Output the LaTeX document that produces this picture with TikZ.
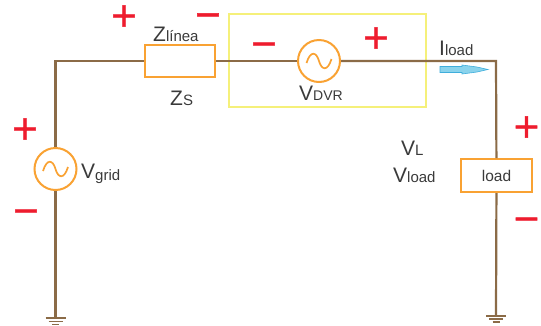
\documentclass[tikz,border=0pt]{standalone}
\usepackage{fontspec}
\setmainfont{Liberation Sans}
\newfontfamily\signfont[FakeBold=1.5]{DejaVu Sans}
\definecolor{wire}{HTML}{8B6B47}
\definecolor{orng}{HTML}{F9A233}
\definecolor{ylw}{HTML}{F5F07A}
\definecolor{sgn}{HTML}{EE1C2E}
\definecolor{txt}{HTML}{3A3A3A}
\definecolor{cyanfill}{HTML}{8AD3EC}
\definecolor{cyanline}{HTML}{3FAEDC}
\newcommand{\lab}[2]{{\fontsize{21}{21}\selectfont #1\fontsize{15}{15}\selectfont #2}}
\tikzset{
  x=1pt,y=-1pt,
  wireline/.style={draw=wire,line width=2.2pt},
  srcbox/.style={draw=orng,line width=2pt,fill=white,inner sep=0pt},
  srccirc/.style={draw=orng,line width=2pt,fill=white,circle,inner sep=0pt,minimum size=42pt},
  sgnmark/.style={text=sgn,inner sep=0pt,anchor=base,font=\signfont\fontsize{34}{34}\selectfont},
  lbl/.style={text=txt,inner sep=0pt,anchor=base west},
}
\begin{document}
\begin{tikzpicture}
\useasboundingbox (0,0) rectangle (541,325);
\node[draw=ylw,line width=1.8pt,minimum width=197pt,minimum height=93pt,inner sep=0pt] (dvrbox) at (327.5,60.5) {};
\coordinate (tl) at (55.5,61);
\coordinate (tr) at (496,61);
\coordinate (gl) at (55.5,318);
\coordinate (gr) at (496,316);
\node[srccirc] (vg) at (55.5,169) {};
\node[srccirc] (vd) at (319,61) {};
\node[srcbox,minimum width=70pt,minimum height=32pt] (z) at (180,61) {};
\node[srcbox,minimum width=71pt,minimum height=33pt,font=\fontsize{15.5}{15.5}\selectfont,text=txt] (ld) at (496.5,175.5) {load};
\draw[wireline] (vg) -- (tl) -- (z);
\draw[wireline] (z) -- (vd);
\draw[wireline] (vd) -- (tr) -- (ld);
\draw[wireline] (vg) -- (gl);
\draw[wireline] (ld) -- (gr);
% grounds
\draw[wire,line width=1.5pt] (45.5,318) -- (65.5,318);
\draw[wire,line width=1.5pt] (48.5,321.5) -- (62.5,321.5);
\draw[wire,line width=1.5pt] (52,324.5) -- (59,324.5);
\draw[wire,line width=1.5pt] (486,316) -- (506,316);
\draw[wire,line width=1.5pt] (489,319) -- (503,319);
\draw[wire,line width=1.5pt] (492.5,322) -- (499.5,322);
% sine
\draw[orng,line width=1.7pt] (43,171) .. controls (47,158) and (53,160) .. (55.5,169) .. controls (58,178) and (64,180) .. (68,167);
\draw[orng,line width=1.7pt] (306.5,63) .. controls (310.5,50) and (316.5,52) .. (319,61) .. controls (321.5,70) and (327.5,72) .. (331.5,59);
% current arrow
\draw[cyanline,fill=cyanfill,line width=.6pt] (440,66.5) -- (462,66.5) -- (462,65) -- (477,67) -- (488,69.5) -- (477,72) -- (462,74) -- (462,72.5) -- (440,72.5) -- cycle;
% text
\node[lbl] (t1) at (153,41) {\lab{Z}{línea}};
\node[lbl] (t2) at (170,105) {\lab{Z}{S}};
\node[lbl] (t3) at (81,178) {\lab{V}{}\raisebox{-2pt}{\fontsize{15}{15}\selectfont grid}};
\node[lbl] (t4) at (299,100) {{\fontsize{21}{21}\selectfont V\fontsize{14}{14}\selectfont DVR}};
\node[lbl] (t5) at (439,55) {\lab{I}{load}};
\node[lbl] (t6) at (401,155) {\lab{V}{L}};
\node[lbl] (t7) at (393,182) {\lab{V}{load}};
% signs
\node[sgnmark] (p1) at (124,26.7) {+};
\node[sgnmark] (m1) at (208,25.5) {−};
\node[sgnmark] (p2) at (25,139.7) {+};
\node[sgnmark] (m2) at (26,221.7) {−};
\node[sgnmark] (m3) at (264,54.7) {−};
\node[sgnmark] (p3) at (376,48.7) {+};
\node[sgnmark] (p4) at (526.5,137.7) {+};
\node[sgnmark] (m4) at (526.5,229.7) {−};
\end{tikzpicture}
\end{document}
